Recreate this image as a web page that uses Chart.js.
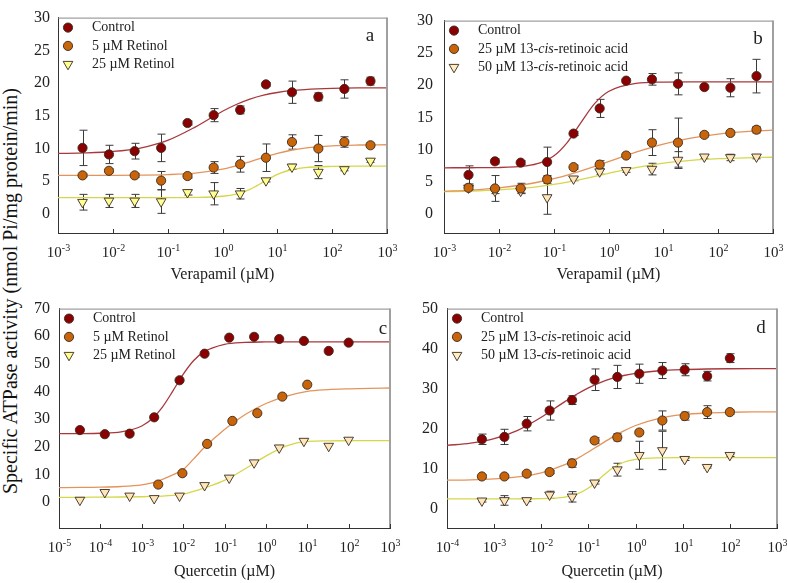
<!DOCTYPE html>
<html>
<head>
<meta charset="utf-8">
<script src="https://cdn.jsdelivr.net/npm/chart.js@4.4.1/dist/chart.umd.min.js"></script>
<style>
  body { margin: 0; background: #fff; width: 787px; height: 583px; position: relative; overflow: hidden; }
  canvas { position: absolute; }
  #ytitle {
    position: absolute; left: 10px; top: 291px;
    transform: translate(-50%, -50%) rotate(-90deg);
    white-space: nowrap; font-family: "Liberation Serif", serif; font-size: 20px; color: #111;
  }
</style>
</head>
<body>
<div id="ytitle">Specific ATPase activity (nmol Pi/mg protein/min)</div>
<canvas id="chartA" width="402" height="292" style="left:0;top:0"></canvas>
<canvas id="chartB" width="397" height="292" style="left:390px;top:0"></canvas>
<canvas id="chartC" width="404" height="293" style="left:0;top:290px"></canvas>
<canvas id="chartD" width="397" height="293" style="left:390px;top:290px"></canvas>
<script>
const serif = '"Liberation Serif", "Times New Roman", serif';
Chart.defaults.font.family = serif;
Chart.defaults.color = '#222';

// concentrations (µM)
const verapamilConc = [0.0028, 0.0085, 0.025, 0.076, 0.23, 0.69, 2.1, 6.2, 18.5, 56, 167, 500];
const quercetinConcC = [3.2e-5, 1.28e-4, 5.1e-4, 2.0e-3, 8.2e-3, 0.033, 0.13, 0.52, 2.1, 8.3, 33, 100];
const quercetinConcC5 = [2.5e-3, 9.6e-3, 0.038, 0.155, 0.62, 2.5, 10];
const quercetinConcD = [5.5e-4, 1.65e-3, 4.9e-3, 0.015, 0.045, 0.135, 0.41, 1.2, 3.7, 11, 33, 100];

// panel a - verapamil, retinol
const aCtrl = [10.1, 9.1, 9.6, 10.1, 13.9, 15.1, 15.9, 19.8, 18.6, 17.9, 19.1, 20.3];
const aCtrlErr = [2.7, 1.4, 1.2, 2.1, 0.3, 1.0, 0.6, 0.3, 1.7, 0.6, 1.4, 0.6];
const aRet5 = [5.9, 6.6, 5.9, 5.1, 5.8, 7.1, 7.6, 8.6, 11.0, 10.0, 11.0, 10.5];
const aRet5Err = [0.2, 0.3, 0.3, 1.4, 0.3, 0.9, 1.2, 2.1, 1.1, 2.0, 0.8, 0.3];
const aRet25 = [1.8, 2.0, 2.0, 1.9, 3.3, 3.1, 3.1, 5.1, 7.2, 6.4, 6.8, 8.1];
const aRet25Err = [1.2, 1.0, 1.0, 1.8, 0.4, 1.7, 0.8, 0.2, 0.4, 1.0, 0.2, 0.2];
const aFitLog = [-3, -2.5, -2, -1.5, -1, -0.5, 0, 0.25, 0.5, 0.75, 1, 1.25, 1.5, 2, 2.5, 3];
const aCtrlFit = [9.25, 9.33, 9.55, 10.08, 11.24, 13.27, 15.69, 16.73, 17.55, 18.15, 18.56, 18.84, 19.01, 19.19, 19.26, 19.28];
const aRet5Fit = [5.9, 5.9, 5.91, 5.94, 6.02, 6.25, 6.84, 7.35, 7.98, 8.65, 9.26, 9.74, 10.07, 10.42, 10.54, 10.58];
const aRet25Fit = [2.5, 2.5, 2.5, 2.5, 2.5, 2.53, 2.71, 3.04, 3.76, 4.9, 6.04, 6.76, 7.09, 7.27, 7.3, 7.3];

// panel b - verapamil, 13-cis-retinoic acid
const bCtrl = [6.1, 8.2, 8.0, 8.1, 12.5, 16.4, 20.7, 20.9, 20.2, 19.7, 19.6, 21.4];
const bCtrlErr = [1.4, 0.4, 0.3, 2.3, 0.3, 1.4, 0.3, 0.9, 1.7, 0.3, 1.4, 2.6];
const bCis25 = [4.1, 4.0, 4.0, 5.4, 7.3, 7.7, 9.1, 11.1, 11.1, 12.3, 12.6, 13.1];
const bCis25Err = [0.3, 2.0, 0.8, 0.6, 0.3, 0.6, 0.3, 2.0, 3.8, 0.3, 0.3, 0.5];
const bCis50 = [4.1, 3.6, 3.6, 2.6, 5.5, 6.6, 6.8, 7.0, 8.4, 8.9, 8.8, 8.9];
const bCis50Err = [0.3, 0.4, 0.3, 2.6, 0.3, 0.4, 0.3, 0.9, 1.3, 0.3, 0.5, 0.3];
const bFitLog = [-3, -2.5, -2, -1.5, -1.25, -1, -0.75, -0.5, -0.25, 0, 0.5, 1, 1.5, 2, 2.5, 3];
const bCtrlFit = [7.2, 7.21, 7.24, 7.49, 7.95, 9.02, 11.15, 14.24, 17.17, 19.01, 20.27, 20.47, 20.5, 20.5, 20.5, 20.5];
const bCis25Fit = [3.55, 3.75, 4.09, 4.65, 5.04, 5.51, 6.07, 6.71, 7.41, 8.15, 9.62, 10.87, 11.8, 12.42, 12.8, 13.02];
const bCis50Fit = [3.5, 3.59, 3.77, 4.09, 4.33, 4.63, 4.99, 5.41, 5.87, 6.34, 7.23, 7.91, 8.35, 8.61, 8.75, 8.83];

// panel c - quercetin, retinol
const cCtrl = [26.1, 24.6, 24.8, 30.7, 44.1, 53.7, 59.5, 59.8, 59.0, 58.3, 54.7, 57.7];
const cRet5 = [6.4, 10.5, 21.1, 29.4, 32.2, 38.2, 42.5];
const cRet25 = [0.8, 3.6, 2.3, 1.4, 2.3, 6.1, 8.8, 14.3, 19.7, 22.1, 20.3, 22.5];
const cFitLog = [-5, -4.5, -4, -3.5, -3, -2.75, -2.5, -2.25, -2, -1.75, -1.5, -1, -0.5, 0, 0.5, 1, 1.5, 2, 2.5, 3];
const cCtrlFit = [24.8, 24.83, 24.95, 25.46, 27.57, 30.16, 34.42, 40.17, 46.22, 51.15, 54.36, 57.11, 57.8, 57.95, 58, 58, 58, 58, 58, 58];
const cRet5Fit = [5.3, 5.35, 5.45, 5.7, 6.3, 7.0, 8.3, 9.9, 11.8, 15.6, 19.6, 26.3, 31.7, 35.7, 38.4, 40.1, 40.7, 41.0, 41.2, 41.3];
const cRet25Fit = [1.8, 1.8, 1.85, 1.9, 2.0, 2.1, 2.25, 2.5, 2.9, 3.9, 5.1, 7.9, 12.1, 16.7, 20.4, 22.0, 22.2, 22.25, 22.3, 22.3];

// panel d - quercetin, 13-cis-retinoic acid
const dCtrl = [17.3, 17.9, 21.2, 24.5, 27.1, 32.2, 32.9, 33.7, 34.5, 34.7, 33.1, 37.6];
const dCtrlErr = [1.3, 1.9, 1.8, 2.4, 1.1, 2.7, 2.9, 2.4, 2.0, 1.5, 1.2, 1.1];
const dCis25 = [8.0, 8.0, 8.7, 9.1, 11.3, 17.0, 17.8, 19.0, 22.0, 23.1, 24.1, 24.1];
const dCis25Err = [0.4, 0.4, 0.4, 0.4, 1.0, 0.7, 0.9, 0.5, 2.4, 1.0, 1.6, 0.5];
const dCis50 = [1.9, 2.0, 2.0, 3.4, 2.9, 6.4, 9.7, 13.3, 14.5, 12.3, 10.3, 13.3];
const dCis50Err = [0.3, 1.2, 0.3, 0.9, 1.3, 0.3, 1.6, 3.5, 4.8, 0.3, 0.2, 0.3];
const dFitLog = [-4, -3.5, -3, -2.5, -2, -1.5, -1.25, -1, -0.75, -0.5, -0.25, 0, 0.5, 1, 1.5, 2, 2.5, 3];
const dCtrlFit = [15.77, 16.33, 17.46, 19.55, 22.82, 26.73, 28.57, 30.18, 31.5, 32.51, 33.26, 33.8, 34.45, 34.75, 34.89, 34.95, 34.98, 35.0];
const dCis25Fit = [7.07, 7.16, 7.38, 7.87, 8.92, 10.95, 12.41, 14.13, 15.97, 17.78, 19.4, 20.75, 22.55, 23.46, 23.88, 24.06, 24.14, 24.17];
const dCis50Fit = [2.4, 2.4, 2.4, 2.41, 2.46, 2.84, 3.55, 5.1, 7.55, 10.0, 11.55, 12.26, 12.64, 12.69, 12.7, 12.7, 12.7, 12.7];

// axis ticks
const verapamilTicks = [1e-3, 1e-2, 1e-1, 1e0, 1e1, 1e2, 1e3];
const quercetinTicksC = [1e-5, 1e-4, 1e-3, 1e-2, 1e-1, 1e0, 1e1, 1e2, 1e3];
const quercetinTicksD = [1e-4, 1e-3, 1e-2, 1e-1, 1e0, 1e1, 1e2, 1e3];
const yTicksAB = [0, 5, 10, 15, 20, 25, 30];
const yTicksC = [0, 10, 20, 30, 40, 50, 60, 70];
const yTicksD = [0, 10, 20, 30, 40, 50];

const retinolLabels = [[['Control', false]], [['5 \u00b5M Retinol', false]], [['25 \u00b5M Retinol', false]]];
const cisLabels = [
  [['Control', false]],
  [['25 \u00b5M 13-', false], ['cis', true], ['-retinoic acid', false]],
  [['50 \u00b5M 13-', false], ['cis', true], ['-retinoic acid', false]]
];

const red = { fill: '#8b0000', line: '#a8383c', shape: 'circle' };
const orange = { fill: '#c8640a', line: '#e3945c', shape: 'circle' };
const yellowTri = { fill: '#ffff90', line: '#d6d64a', shape: 'tri' };
const peachTri = { fill: '#ffe6b8', line: '#d6d64a', shape: 'tri', legendFill: '#ffeec0' };

function drawMarker(ctx, shape, x, y, fill) {
  ctx.beginPath();
  if (shape === 'tri') {
    const r = 5.6;
    ctx.moveTo(x, y + r);
    ctx.lineTo(x - r * 0.866, y - r / 2);
    ctx.lineTo(x + r * 0.866, y - r / 2);
    ctx.closePath();
  } else {
    ctx.arc(x, y, 4.6, 0, Math.PI * 2);
  }
  ctx.fillStyle = fill;
  ctx.fill();
  ctx.strokeStyle = '#3a2a20';
  ctx.lineWidth = 0.9;
  ctx.stroke();
}

const errorBars = {
  id: 'errorBars',
  beforeDatasetsDraw(chart) {
    const { ctx, scales: { x, y } } = chart;
    ctx.save();
    ctx.strokeStyle = '#3a3a3a';
    ctx.lineWidth = 1;
    chart.data.datasets.forEach(ds => {
      if (!ds.errors) return;
      ds.data.forEach((p, i) => {
        const e = ds.errors[i];
        if (!e) return;
        const px = Math.round(x.getPixelForValue(p.x)) + 0.5;
        const top = y.getPixelForValue(p.y + e);
        const bot = y.getPixelForValue(p.y - e);
        ctx.beginPath();
        ctx.moveTo(px, top); ctx.lineTo(px, bot);
        ctx.moveTo(px - 4, top); ctx.lineTo(px + 4, top);
        ctx.moveTo(px - 4, bot); ctx.lineTo(px + 4, bot);
        ctx.stroke();
      });
    });
    ctx.restore();
  }
};

const panelDeco = {
  id: 'panelDeco',
  afterDraw(chart, args, o) {
    const { ctx, chartArea: a, scales: { x } } = chart;
    ctx.save();
    // top and right frame lines
    ctx.strokeStyle = '#888';
    ctx.lineWidth = 1;
    ctx.beginPath(); ctx.moveTo(a.left, a.top + 0.5); ctx.lineTo(a.right, a.top + 0.5); ctx.stroke();
    ctx.strokeStyle = '#a0a0a0';
    ctx.lineWidth = 2;
    ctx.beginPath(); ctx.moveTo(a.right, a.top); ctx.lineTo(a.right, a.bottom); ctx.stroke();

    // x ticks (inward) and 10^n labels
    ctx.strokeStyle = '#333';
    ctx.lineWidth = 1;
    ctx.fillStyle = '#222';
    ctx.textBaseline = 'middle';
    ctx.textAlign = 'left';
    o.xTicks.forEach(v => {
      const px = Math.round(x.getPixelForValue(v)) + 0.5;
      ctx.beginPath(); ctx.moveTo(px, a.bottom); ctx.lineTo(px, a.bottom - 4); ctx.stroke();
      const exp = String(Math.round(Math.log10(v)));
      ctx.font = '15px ' + serif;
      const w1 = ctx.measureText('10').width;
      ctx.font = '10px ' + serif;
      const w2 = ctx.measureText(exp).width;
      const x0 = px - (w1 + w2) / 2;
      const ly = a.bottom + o.tickGap;
      ctx.font = '15px ' + serif;
      ctx.fillText('10', x0, ly);
      ctx.font = '10px ' + serif;
      ctx.fillText(exp, x0 + w1, ly - 5);
    });

    // x title
    ctx.font = '16px ' + serif;
    ctx.textAlign = 'center';
    ctx.fillText(o.xTitle, (a.left + a.right) / 2, a.bottom + o.titleGap);

    // panel letter
    ctx.font = '19px ' + serif;
    ctx.fillText(o.letter, a.right + o.letterDx, a.top + o.letterDy);

    // legend
    ctx.textAlign = 'left';
    o.items.forEach((it, i) => {
      const ly = a.top + 10 + i * 18.3;
      drawMarker(ctx, it.shape, a.left + 10, ly, it.fill);
      let tx = a.left + 34;
      ctx.fillStyle = '#222';
      it.parts.forEach(([txt, italic]) => {
        ctx.font = (italic ? 'italic ' : '') + '14px ' + serif;
        ctx.fillText(txt, tx, ly);
        tx += ctx.measureText(txt).width;
      });
    });
    ctx.restore();
  }
};

function makePanel(id, p) {
  const datasets = [];
  p.series.forEach(s => {
    const tri = s.style.shape === 'tri';
    datasets.push({
      data: s.x.map((v, i) => ({ x: v, y: s.y[i] })),
      errors: s.err,
      pointStyle: tri ? 'triangle' : 'circle',
      pointRotation: tri ? 180 : 0,
      pointRadius: tri ? 5.6 : 4.6,
      pointBackgroundColor: s.style.fill,
      pointBorderColor: '#3a2a20',
      pointBorderWidth: 0.9,
      order: 0
    });
    datasets.push({
      data: p.fitLog.map((l, i) => ({ x: Math.pow(10, l), y: s.fit[i] })),
      showLine: true,
      pointRadius: 0,
      borderColor: s.style.line,
      borderWidth: 1.3,
      cubicInterpolationMode: 'monotone',
      order: 1
    });
  });

  return new Chart(document.getElementById(id), {
    type: 'scatter',
    data: { datasets },
    options: {
      responsive: false,
      animation: false,
      events: [],
      layout: { padding: { top: p.padTop, right: p.padRight, left: 0, bottom: 0 } },
      plugins: {
        legend: { display: false },
        tooltip: { enabled: false },
        panelDeco: {
          xTicks: p.xTicks,
          xTitle: p.xTitle,
          letter: p.letter,
          letterDx: p.letterDx,
          letterDy: p.letterDy,
          tickGap: 20,
          titleGap: p.titleGap,
          items: p.series.map((s, i) => ({
            shape: s.style.shape,
            fill: s.style.legendFill || s.style.fill,
            parts: p.labels[i]
          }))
        }
      },
      scales: {
        x: {
          type: 'logarithmic',
          min: p.xTicks[0],
          max: p.xTicks[p.xTicks.length - 1],
          grid: { display: false, drawTicks: false },
          border: { color: '#333', width: 1 },
          ticks: { display: false },
          afterBuildTicks: s => { s.ticks = p.xTicks.map(v => ({ value: v })); },
          afterFit: s => { s.height = p.xAxisH; }
        },
        y: {
          min: p.yMin,
          max: p.yTicks[p.yTicks.length - 1],
          grid: { display: false, drawTicks: false },
          border: { color: '#333', width: 1 },
          ticks: { font: { size: 16 }, color: '#222', padding: p.yPad },
          afterBuildTicks: s => { s.ticks = p.yTicks.map(v => ({ value: v })); },
          afterFit: s => { s.width = p.yAxisW; }
        }
      }
    },
    plugins: [errorBars, panelDeco]
  });
}

makePanel('chartA', {
  series: [
    { x: verapamilConc, y: aCtrl, err: aCtrlErr, fit: aCtrlFit, style: red },
    { x: verapamilConc, y: aRet5, err: aRet5Err, fit: aRet5Fit, style: orange },
    { x: verapamilConc, y: aRet25, err: aRet25Err, fit: aRet25Fit, style: yellowTri }
  ],
  labels: retinolLabels,
  fitLog: aFitLog, xTicks: verapamilTicks, yTicks: yTicksAB, yMin: -2.9,
  xTitle: 'Verapamil (\u00b5M)', letter: 'a', letterDx: -17, letterDy: 18,
  padTop: 7, padRight: 15, yAxisW: 58, xAxisH: 59, yPad: 8, titleGap: 42
});

makePanel('chartB', {
  series: [
    { x: verapamilConc, y: bCtrl, err: bCtrlErr, fit: bCtrlFit, style: red },
    { x: verapamilConc, y: bCis25, err: bCis25Err, fit: bCis25Fit, style: orange },
    { x: verapamilConc, y: bCis50, err: bCis50Err, fit: bCis50Fit, style: peachTri }
  ],
  labels: cisLabels,
  fitLog: bFitLog, xTicks: verapamilTicks, yTicks: yTicksAB, yMin: -2.9,
  xTitle: 'Verapamil (\u00b5M)', letter: 'b', letterDx: -15, letterDy: 18,
  padTop: 7, padRight: 14, yAxisW: 54, xAxisH: 59, yPad: 11, titleGap: 42
});

makePanel('chartC', {
  series: [
    { x: quercetinConcC, y: cCtrl, fit: cCtrlFit, style: red },
    { x: quercetinConcC5, y: cRet5, fit: cRet5Fit, style: orange },
    { x: quercetinConcC, y: cRet25, fit: cRet25Fit, style: Object.assign({}, peachTri, { legendFill: '#ffff90' }) }
  ],
  labels: retinolLabels,
  fitLog: cFitLog, xTicks: quercetinTicksC, yTicks: yTicksC, yMin: -9.3,
  xTitle: 'Quercetin (\u00b5M)', letter: 'c', letterDx: -7, letterDy: 20,
  padTop: 12, padRight: 14, yAxisW: 59, xAxisH: 55, yPad: 9, titleGap: 44
});

makePanel('chartD', {
  series: [
    { x: quercetinConcD, y: dCtrl, err: dCtrlErr, fit: dCtrlFit, style: red },
    { x: quercetinConcD, y: dCis25, err: dCis25Err, fit: dCis25Fit, style: orange },
    { x: quercetinConcD, y: dCis50, err: dCis50Err, fit: dCis50Fit, style: peachTri }
  ],
  labels: cisLabels,
  fitLog: dFitLog, xTicks: quercetinTicksD, yTicks: yTicksD, yMin: -4.9,
  xTitle: 'Quercetin (\u00b5M)', letter: 'd', letterDx: -16, letterDy: 19,
  padTop: 14, padRight: 10, yAxisW: 57, xAxisH: 55, yPad: 9, titleGap: 44
});
</script>
</body>
</html>
